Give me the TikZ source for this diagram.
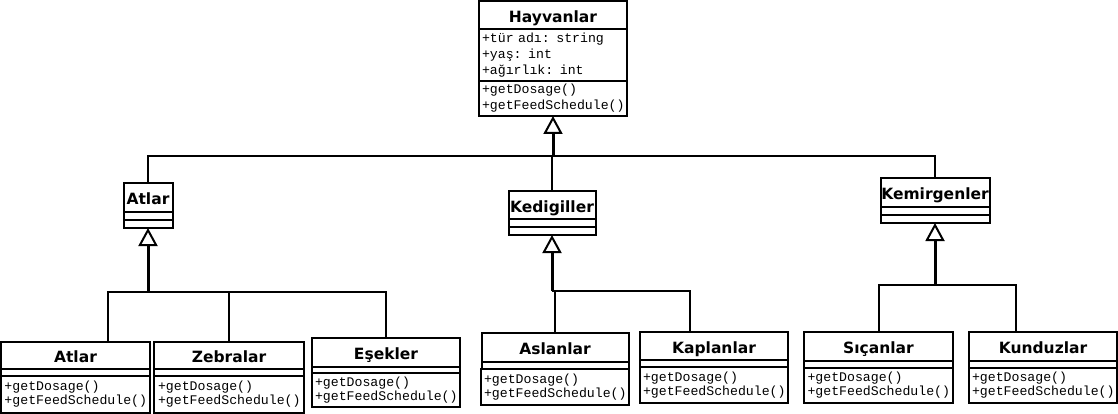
\documentclass[tikz,border=0pt]{standalone}
\usepackage{fontspec}
\usetikzlibrary{
  arrows.meta,
  positioning,
  calc
}
\newfontfamily\umlsans{DejaVu Sans}
\newfontfamily\umlmono{Liberation Mono}
\definecolor{umlLine}{RGB}{0,0,0}
\tikzset{
  umltitle/.style={
    draw=umlLine,
    line width=2pt,
    outer sep=0pt,
    inner sep=0pt,
    anchor=north,
    minimum width=#1,
    minimum height=28pt,
    text height=14.5pt,
    text depth=0pt,
    fill=white,
    font=\umlsans\bfseries\fontsize{15.5}{17}\selectfont
  },
  umltitle/.default=148pt,
  umlempty/.style={
    draw=umlLine,
    line width=2pt,
    outer sep=0pt,
    inner sep=0pt,
    minimum width=#1,
    minimum height=7pt,
    fill=white
  },
  umlempty/.default=148pt,
  umllist/.style={
    draw=umlLine,
    line width=2pt,
    outer sep=0pt,
    inner xsep=3pt,
    inner ysep=0pt,
    text width=142pt,
    minimum width=#1,
    align=left,
    minimum height=36pt,
    fill=white,
    font=\umlmono\fontsize{13.2}{14}\selectfont
  },
  umllist/.default=148pt,
  umlinherit/.style={
    -{Triangle[open,length=18pt,width=19pt,line width=2pt]},
    line width=3pt,
    draw=umlLine
  },
  umllink/.style={
    line width=2pt,
    draw=umlLine
  }
}
\begin{document}
\begin{tikzpicture}[x=1pt,y=-1pt]
  \useasboundingbox (0,0) rectangle (1118,414);

  % base class
  \node[umltitle] (hay) at (553,1) {Hayvanlar};
  \node[umllist, below=0pt of hay, minimum height=52pt,
    font=\umlmono\fontsize{13.2}{16}\selectfont] (hayAttr)
    {+tür adı: string\\+yaş: int\\+ağırlık: int};
  \node[umllist, below=0pt of hayAttr, minimum height=35pt,
    font=\umlmono\fontsize{13.2}{16}\selectfont] (hayOps)
    {+getDosage()\\+getFeedSchedule()};

  % middle level
  \node[umltitle=49pt, minimum height=29pt] (atlar) at (148,183) {Atlar};
  \node[umlempty=49pt, minimum height=8pt, below=0pt of atlar] (atlarAttr) {};
  \node[umlempty=49pt, minimum height=8pt, below=0pt of atlarAttr] (atlarOps) {};

  \node[umltitle=87pt] (kedi) at (552,191) {Kedigiller};
  \node[umlempty=87pt, minimum height=8pt, below=0pt of kedi] (kediAttr) {};
  \node[umlempty=87pt, minimum height=8pt, below=0pt of kediAttr] (kediOps) {};

  \node[umltitle=109pt, minimum height=29pt] (kemir) at (935,178) {Kemirgenler};
  \node[umlempty=109pt, minimum height=8pt, below=0pt of kemir] (kemirAttr) {};
  \node[umlempty=109pt, minimum height=8pt, below=0pt of kemirAttr] (kemirOps) {};

  % leaf classes
  \node[umltitle=149pt, minimum height=27pt] (atlarA) at (75.5,342) {Atlar};
  \node[umlempty=149pt, below=0pt of atlarA] (atlarAAttr) {};
  \node[umllist=149pt, minimum height=37pt, below=0pt of atlarAAttr] (atlarAOps)
    {+getDosage()\\+getFeedSchedule()};

  \node[umltitle=150pt, minimum height=27pt] (zebra) at (229,342) {Zebralar};
  \node[umlempty=150pt, below=0pt of zebra] (zebraAttr) {};
  \node[umllist=150pt, minimum height=37pt, below=0pt of zebraAttr] (zebraOps)
    {+getDosage()\\+getFeedSchedule()};

  \node[umltitle, minimum height=29pt] (esek) at (386,338) {Eşekler};
  \node[umlempty, minimum height=6pt, below=0pt of esek] (esekAttr) {};
  \node[umllist, minimum height=34pt, below=0pt of esekAttr] (esekOps)
    {+getDosage()\\+getFeedSchedule()};

  \node[umltitle=147pt, minimum height=29pt] (aslan) at (555,333) {Aslanlar};
  \node[umlempty=147pt, below=0pt of aslan] (aslanAttr) {};
  \node[umllist=147pt, below=0pt of aslanAttr] (aslanOps)
    {+getDosage()\\+getFeedSchedule()};

  \node[umltitle] (kaplan) at (714,332) {Kaplanlar};
  \node[umlempty, below=0pt of kaplan] (kaplanAttr) {};
  \node[umllist, below=0pt of kaplanAttr] (kaplanOps)
    {+getDosage()\\+getFeedSchedule()};

  \node[umltitle=149pt, minimum height=29pt] (sican) at (878.5,332) {Sıçanlar};
  \node[umlempty=149pt, below=0pt of sican] (sicanAttr) {};
  \node[umllist=149pt, minimum height=35pt, below=0pt of sicanAttr] (sicanOps)
    {+getDosage()\\+getFeedSchedule()};

  \node[umltitle, minimum height=29pt] (kunduz) at (1043,332) {Kunduzlar};
  \node[umlempty, below=0pt of kunduz] (kunduzAttr) {};
  \node[umllist, minimum height=35pt, below=0pt of kunduzAttr] (kunduzOps)
    {+getDosage()\\+getFeedSchedule()};

  % inheritance
  \coordinate (busTop) at (553,156);
  \draw[umllink] (atlar.north) |- (busTop);
  \draw[umllink] (kedi.north) |- (busTop);
  \draw[umllink] (kemir.north) |- (busTop);
  \draw[umlinherit] (busTop) -- (hayOps.south);

  \coordinate (busAtlar) at (148,292);
  \draw[umllink] ([xshift=32.5pt]atlarA.north) |- (busAtlar);
  \draw[umllink] (zebra.north) |- (busAtlar);
  \draw[umllink] (esek.north) |- (busAtlar);
  \draw[umlinherit] (busAtlar) -- (atlarOps.south);

  \coordinate (busKedi) at (552,291);
  \draw[umllink] (aslan.north) |- (busKedi);
  \draw[umllink] ([xshift=-24pt]kaplan.north) |- (busKedi);
  \draw[umlinherit] (busKedi) -- (kediOps.south);

  \coordinate (busKemir) at (935,285);
  \draw[umllink] ([xshift=0.5pt]sican.north) |- (busKemir);
  \draw[umllink] ([xshift=-27pt]kunduz.north) |- (busKemir);
  \draw[umlinherit] (busKemir) -- (kemirOps.south);
\end{tikzpicture}
\end{document}
